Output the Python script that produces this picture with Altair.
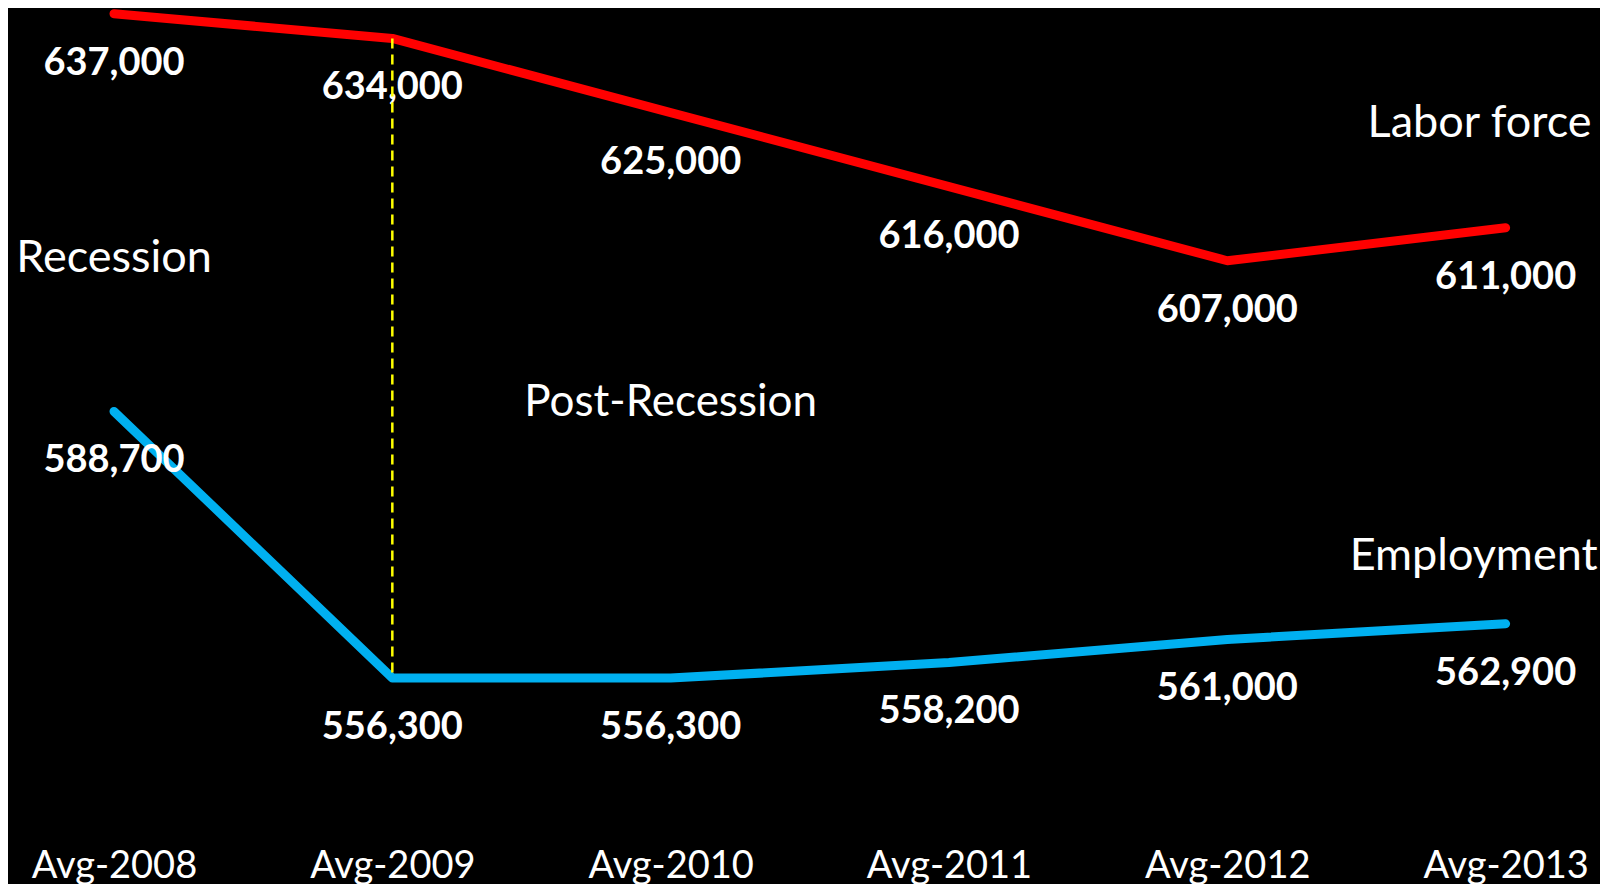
import altair as alt
import pandas as pd

periods = ["Avg-2008", "Avg-2009", "Avg-2010", "Avg-2011", "Avg-2012", "Avg-2013"]
labor_force = [637000, 634000, 625000, 616000, 607000, 611000]
employment = [588700, 556300, 556300, 558200, 561000, 562900]
series_names = ["Labor force", "Employment"]
series_colors = ["#FF0000", "#00B0F0"]
period_names = ["Recession", "Post-Recession"]

rows = []
for p, v in zip(periods, labor_force):
    rows.append({"period": p, "value": v, "series": series_names[0]})
for p, v in zip(periods, employment):
    rows.append({"period": p, "value": v, "series": series_names[1]})
df = pd.DataFrame(rows)

FONT = "Lato"

x_enc = alt.X(
    "period:O",
    sort=periods,
    scale=alt.Scale(type="point", padding=0.36, align=0.529),
    axis=alt.Axis(
        title=None, domain=False, ticks=False, grid=False, labelAngle=0,
        labelFont=FONT, labelFontSize=38, labelColor="white", labelPadding=10,
    ),
)
y_scale = alt.Scale(domain=[537000, 637700], nice=False, zero=False)
y_enc = alt.Y("value:Q", scale=y_scale, axis=None)

base = alt.Chart(df)

lines = base.mark_line(strokeWidth=9, strokeCap="round", strokeJoin="round").encode(
    x=x_enc,
    y=y_enc,
    color=alt.Color("series:N", scale=alt.Scale(domain=series_names, range=series_colors), legend=None),
    detail="series:N",
)

labels = base.mark_text(
    dy=50, font=FONT, fontSize=38, fontWeight="bold", color="white", baseline="middle", align="center"
).encode(
    x=alt.X("period:O", sort=periods),
    y=alt.Y("value:Q"),
    text=alt.Text("value:Q", format=","),
)

# series name annotations anchored to the last point of each series
end_df = pd.DataFrame({
    "period": [periods[-1], periods[-1]],
    "value": [labor_force[-1], employment[-1]],
    "name": series_names,
})
lf_name = alt.Chart(end_df.iloc[[0]]).mark_text(
    dx=-26, dy=-105, font=FONT, fontSize=45, color="white", baseline="middle", align="center"
).encode(x=alt.X("period:O", sort=periods), y=alt.Y("value:Q"), text="name:N")
emp_name = alt.Chart(end_df.iloc[[1]]).mark_text(
    dx=-32, dy=-68, font=FONT, fontSize=45, color="white", baseline="middle", align="center"
).encode(x=alt.X("period:O", sort=periods), y=alt.Y("value:Q"), text="name:N")

# period annotations
period_df = pd.DataFrame({"period": [periods[0], periods[2]], "name": period_names})
rec = alt.Chart(period_df.iloc[[0]]).mark_text(
    font=FONT, fontSize=45, color="white", baseline="middle", align="center"
).encode(x=alt.X("period:O", sort=periods), y=alt.value(250), text="name:N")
post = alt.Chart(period_df.iloc[[1]]).mark_text(
    font=FONT, fontSize=44, color="white", baseline="middle", align="center"
).encode(x=alt.X("period:O", sort=periods), y=alt.value(395), text="name:N")

# recession boundary dashed line
rule_df = pd.DataFrame({"period": [periods[1]], "top": [labor_force[1]], "bottom": [employment[1]]})
rule = alt.Chart(rule_df).mark_rule(color="#FFFF00", strokeWidth=2.5, strokeDash=[10, 6]).encode(
    x=alt.X("period:O", sort=periods),
    y=alt.Y("top:Q"),
    y2="bottom:Q",
)

chart = alt.layer(lines, labels, lf_name, emp_name, rec, post, rule).properties(
    width=1592, height=829,
    padding={"left": 0, "top": 0, "right": 0, "bottom": 47},
    autosize=alt.AutoSizeParams(type="none"),
    background="black",
).configure_view(stroke=None)

chart.save("out.html", embed_options={"renderer": "svg", "actions": False})
